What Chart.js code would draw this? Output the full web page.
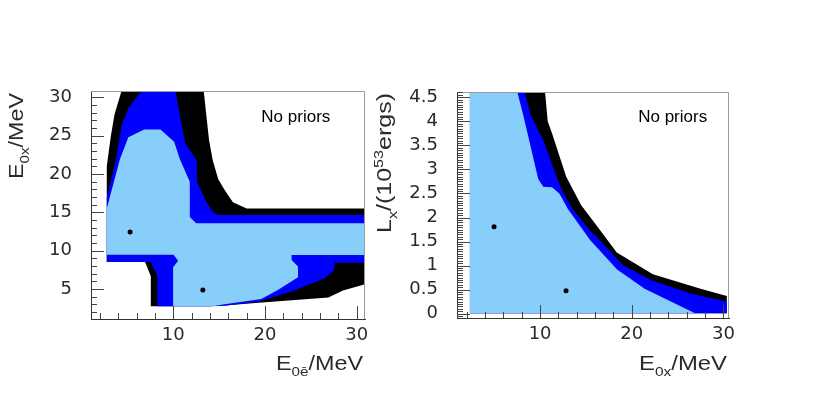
<!DOCTYPE html>
<html>
<head>
<meta charset="utf-8">
<script src="https://cdn.jsdelivr.net/npm/chart.js@4/dist/chart.umd.min.js"></script>
<style>
  body { margin: 0; background: #fff; width: 822px; height: 411px; overflow: hidden; position: relative; }
  canvas { position: absolute; top: 0; }
  #izq { left: 0; }
  #der { left: 370px; }
</style>
</head>
<body>
<canvas id="izq" width="411" height="411"></canvas>
<canvas id="der" width="452" height="411"></canvas>
<script>
// panel izquierdo: E0x vs E0ebar
const izqTicksX = [10, 20, 30];
const izqTicksY = [5, 10, 15, 20, 25, 30];
const izqNegro = [[4.4,31],[13.3,31],[13.9,24.4],[14.3,21.8],[14.9,19.3],[15.6,17.9],[16.5,16.3],[18.0,15.5],[31,15.5],[31,5.66],[28.5,4.8],[26.9,3.9],[19.3,3.2],[15.6,2.85],[14,2.75],[7.55,2.75],[7.55,6.65],[6.93,8.52],[2.75,8.52],[2.75,21],[3.2,25],[3.6,27.8]];
const izqAzul = [[6.64,31],[10.2,31],[11.3,24],[12.55,21.8],[12.6,19],[13.5,16.6],[14.2,15.2],[14.8,14.66],[31,14.66],[31,8.44],[27.6,8.44],[27.55,7.48],[26.5,6.4],[22.9,4.66],[19.25,3.35],[15.6,2.83],[14,2.75],[8.27,2.75],[8.27,6.65],[7.55,8.52],[2.75,8.52],[2.75,16.9],[3.7,21.6],[4.38,26.4],[5.11,28.6]];
const izqCeleste = [[6.82,25.8],[8.6,25.8],[10.1,24.2],[10.7,22],[11.8,19],[11.8,14.4],[12.5,13.57],[31,13.57],[31,9.44],[22.9,9.44],[22.9,8.79],[23.6,7.92],[23.6,6.53],[21.4,4.87],[19.6,3.7],[15.6,3.0],[14.3,2.75],[9.98,2.75],[9.98,7.85],[10.53,8.7],[10.02,9.48],[2.75,9.48],[2.75,15.5],[4.2,22],[5.1,24.8]];
const izqPuntos = [[5.29,12.43],[13.22,4.86]];

// panel derecho: Lx vs E0x
const derTicksX = [10, 20, 30];
const derTicksY = [0, 0.5, 1, 1.5, 2, 2.5, 3, 3.5, 4, 4.5];
const derNegro = [[2.35,0.01],[2.35,4.7],[10.5,4.7],[10.83,4.0],[11.3,3.75],[12.85,2.85],[14.5,2.25],[16.1,1.85],[18.36,1.27],[22.3,0.82],[27.5,0.52],[30.36,0.37],[30.36,0.01]];
const derAzul = [[2.35,0.01],[2.35,4.7],[8.2,4.7],[9.0,4.12],[10.36,3.6],[11.5,3.0],[12.36,2.57],[13.63,2.15],[15.45,1.73],[16.18,1.6],[19.08,1.0],[22.1,0.7],[26.36,0.42],[30.36,0.25],[30.36,0.01]];
const derCeleste = [[2.35,0.01],[2.35,4.7],[7.4,4.7],[8.2,4.1],[9.8,2.8],[10.35,2.64],[11.3,2.63],[12.1,2.5],[13.05,2.17],[15.45,1.53],[18.4,0.92],[21.4,0.52],[26.9,0.01]];
const derPuntos = [[4.98,1.81],[12.83,0.478]];

const fuenteTicks = { family: 'DejaVu Sans', size: 18 };
const colorTexto = '#2a2a2a';

function aPuntos(arr) {
  return arr.map(p => ({ x: p[0], y: p[1] }));
}

function region(arr, color, orden) {
  return {
    data: aPuntos(arr),
    showLine: true,
    fill: 'shape',
    backgroundColor: color,
    borderColor: color,
    borderWidth: 0,
    pointRadius: 0,
    order: orden
  };
}

// texto con subindices / superindices, alineado a la derecha en (x, y)
function textoRico(ctx, partes, x, y, rot, tam, largo) {
  ctx.save();
  let total = 0;
  partes.forEach(p => {
    const t = p.s ? tam * 0.65 : tam;
    ctx.font = t + 'px "Liberation Sans", Arial, sans-serif';
    p.w = ctx.measureText(p.t).width;
    total += p.w;
  });
  const k = largo ? largo / total : 1;
  ctx.translate(x, y);
  ctx.rotate(rot);
  ctx.scale(k, 1);
  ctx.fillStyle = colorTexto;
  ctx.textBaseline = 'alphabetic';
  ctx.textAlign = 'left';
  let cx = -total;
  partes.forEach(p => {
    const t = p.s ? tam * 0.65 : tam;
    ctx.font = t + 'px "Liberation Sans", Arial, sans-serif';
    let dy = 0;
    if (p.s === 'sub') dy = tam * 0.28;
    if (p.s === 'sup') dy = -tam * 0.42;
    ctx.fillText(p.t, cx, dy);
    cx += p.w;
  });
  ctx.restore();
}

const marcoPlugin = {
  id: 'marco',
  afterDraw(chart, args, opts) {
    const ctx = chart.ctx;
    const a = chart.chartArea;
    const sx = chart.scales.x, sy = chart.scales.y;
    ctx.save();
    // marco superior y derecho
    ctx.strokeStyle = '#9a9a9a';
    ctx.lineWidth = 1;
    ctx.beginPath();
    ctx.moveTo(a.left, a.top + 0.5);
    ctx.lineTo(a.right - 0.5, a.top + 0.5);
    ctx.lineTo(a.right - 0.5, a.bottom);
    ctx.stroke();

    // ticks hacia dentro
    ctx.strokeStyle = '#444';
    for (let v = Math.ceil(sx.min / opts.xMenor) * opts.xMenor; v <= sx.max; v += opts.xMenor) {
      const mayor = Math.abs(v / opts.xMayor - Math.round(v / opts.xMayor)) < 1e-6;
      const px = Math.round(sx.getPixelForValue(v)) + 0.5;
      ctx.beginPath();
      ctx.moveTo(px, a.bottom);
      ctx.lineTo(px, a.bottom - (mayor ? 13 : 6));
      ctx.stroke();
    }
    for (let i = Math.ceil(sy.min / opts.yMenor); i * opts.yMenor <= sy.max + 1e-9; i++) {
      const v = i * opts.yMenor;
      const mayor = Math.abs(v / opts.yMayor - Math.round(v / opts.yMayor)) < 1e-6;
      const py = Math.round(sy.getPixelForValue(v)) + 0.5;
      ctx.beginPath();
      ctx.moveTo(a.left, py);
      ctx.lineTo(a.left + (mayor ? 13 : 6), py);
      ctx.stroke();
    }

    // "No priors"
    ctx.fillStyle = '#000';
    ctx.font = '17px "Liberation Sans", Arial, sans-serif';
    ctx.textBaseline = 'alphabetic';
    ctx.fillText('No priors', sx.getPixelForValue(opts.nota[0]), sy.getPixelForValue(opts.nota[1]));

    // titulos de ejes
    textoRico(ctx, opts.tituloX, a.right - 2, 370, 0, 20, opts.largoX);
    textoRico(ctx, opts.tituloY, opts.yBase, 93, -Math.PI / 2, 20, opts.largoY);
    ctx.restore();
  }
};

function crearGrafico(id, cfg) {
  const ctx = document.getElementById(id).getContext('2d');
  return new Chart(ctx, {
    type: 'scatter',
    data: {
      datasets: [
        { data: aPuntos(cfg.puntos), backgroundColor: '#000', borderColor: '#000', pointRadius: 2.5, pointBorderWidth: 0, order: 0 },
        region(cfg.celeste, '#87cefa', 1),
        region(cfg.azul, '#0000ff', 2),
        region(cfg.negro, '#000000', 3)
      ]
    },
    options: {
      responsive: false,
      animation: false,
      events: [],
      layout: { padding: { top: cfg.arriba, right: cfg.derecha, left: 0, bottom: 0 } },
      plugins: {
        legend: { display: false },
        tooltip: { enabled: false },
        marco: cfg.marco
      },
      scales: {
        x: {
          type: 'linear',
          min: cfg.xMin, max: cfg.xMax,
          afterBuildTicks: s => { s.ticks = cfg.ticksX.map(v => ({ value: v })); },
          afterFit: s => { s.height = cfg.altoX; },
          ticks: { font: fuenteTicks, color: colorTexto, padding: 6, maxRotation: 0, autoSkip: false, callback: v => String(v) },
          grid: { display: false, drawTicks: false },
          border: { display: true, color: '#333' }
        },
        y: {
          type: 'linear',
          min: cfg.yMin, max: cfg.yMax,
          afterBuildTicks: s => { s.ticks = cfg.ticksY.map(v => ({ value: v })); },
          afterFit: s => { s.width = cfg.anchoY; },
          ticks: { font: fuenteTicks, color: colorTexto, padding: 19, autoSkip: false, callback: v => String(v) },
          grid: { display: false, drawTicks: false },
          border: { display: true, color: '#333' }
        }
      }
    },
    plugins: [marcoPlugin]
  });
}

crearGrafico('izq', {
  puntos: izqPuntos, celeste: izqCeleste, azul: izqAzul, negro: izqNegro,
  ticksX: izqTicksX, ticksY: izqTicksY,
  xMin: 1.03, xMax: 30.9, yMin: 1.09, yMax: 30.82,
  arriba: 91, derecha: 46, altoX: 92, anchoY: 91,
  marco: {
    xMenor: 2, xMayor: 10, yMenor: 1, yMayor: 5,
    nota: [19.6, 26.8],
    tituloX: [{ t: 'E' }, { t: '0ē', s: 'sub' }, { t: '/MeV' }], largoX: 87,
    tituloY: [{ t: 'E' }, { t: '0x', s: 'sub' }, { t: '/MeV' }], largoY: 86, yBase: 23
  }
});

crearGrafico('der', {
  puntos: derPuntos, celeste: derCeleste, azul: derAzul, negro: derNegro,
  ticksX: derTicksX, ticksY: derTicksY,
  xMin: 0.94, xMax: 30.6, yMin: -0.09, yMax: 4.61,
  arriba: 92, derecha: 93, altoX: 93, anchoY: 87,
  marco: {
    xMenor: 2, xMayor: 10, yMenor: 0.05, yMayor: 0.5,
    nota: [20.7, 3.99],
    tituloX: [{ t: 'E' }, { t: '0x', s: 'sub' }, { t: '/MeV' }], largoX: 88,
    tituloY: [{ t: 'L' }, { t: 'x', s: 'sub' }, { t: '/(10' }, { t: '53', s: 'sup' }, { t: 'ergs)' }], largoY: 140, yBase: 21
  }
});
</script>
</body>
</html>
